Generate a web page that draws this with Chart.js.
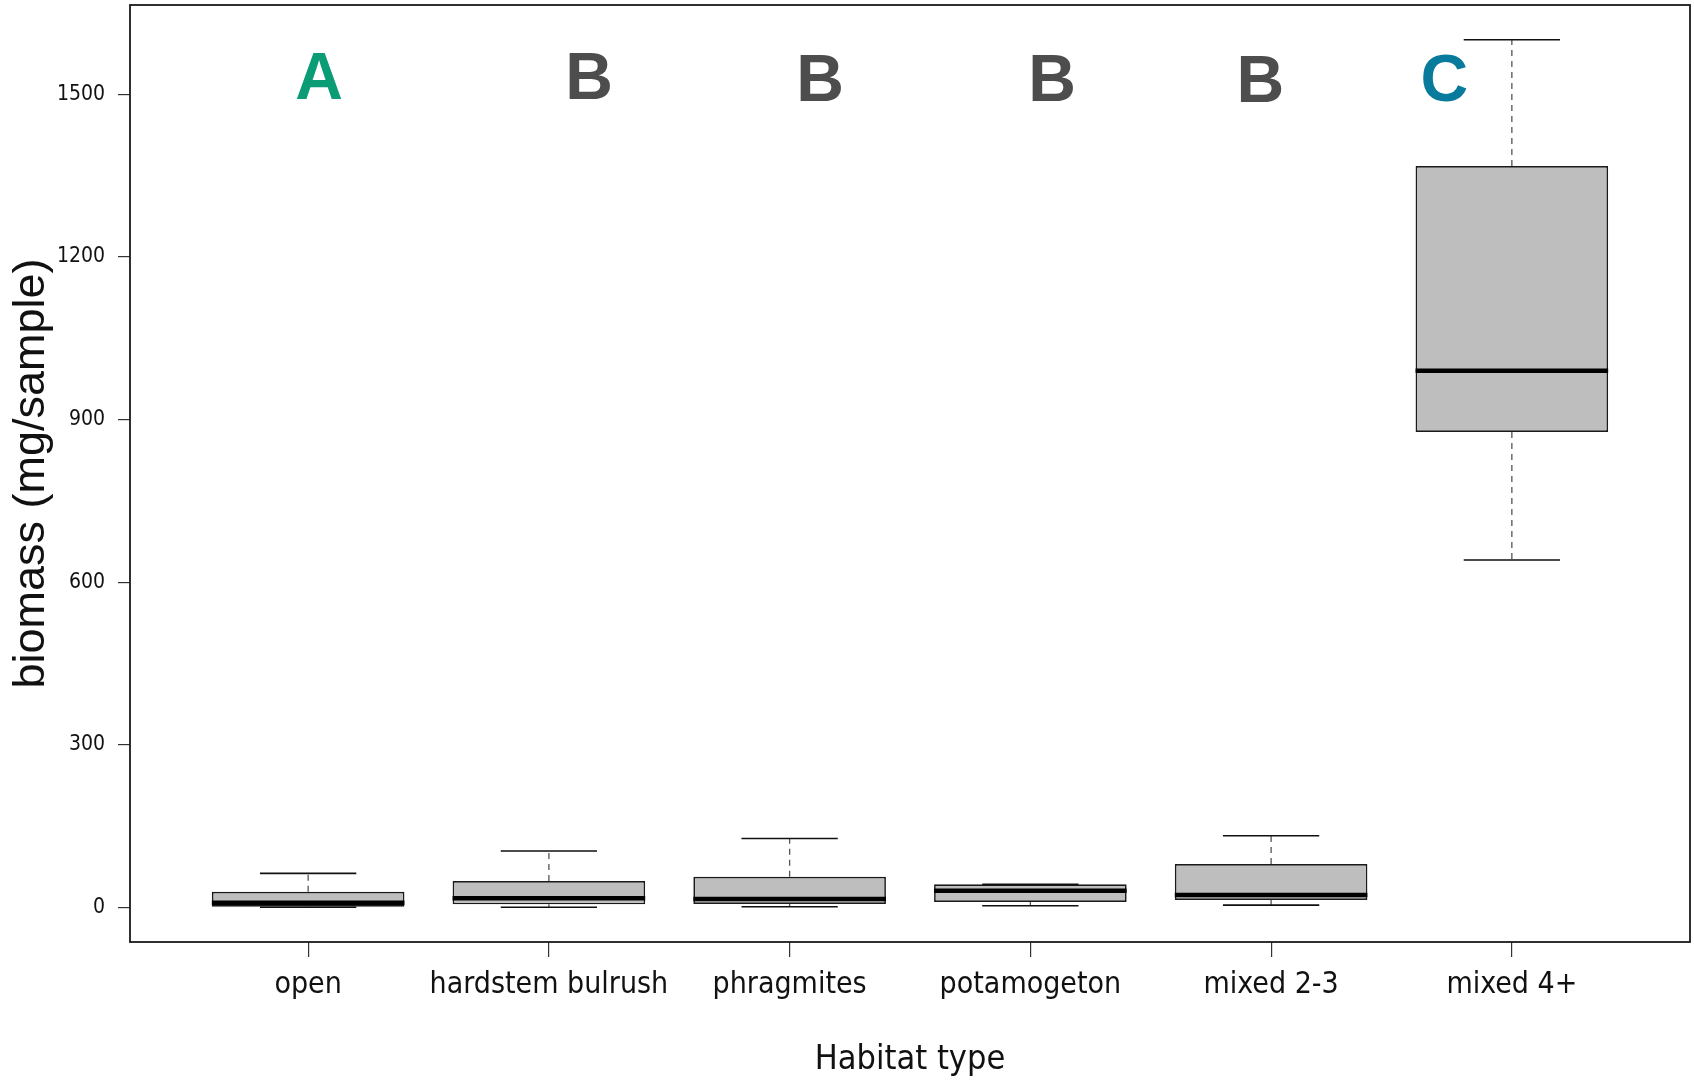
<!DOCTYPE html>
<html lang="en">
<head>
    <meta charset="UTF-8">
    <title>Biomass by habitat type</title>
    <script src="https://cdn.jsdelivr.net/npm/chart.js@4.4.1/dist/chart.umd.min.js"></script>
    <style>
        body {
            margin: 0;
            background: white;
        }
        .chart-container {
            width: 1694px;
            height: 1081px;
        }
    </style>
</head>
<body>
    <div class="chart-container">
        <canvas id="boxChart"></canvas>
    </div>

    <script>
        // habitat categories and box statistics (mg/sample)
        const categories = ['open', 'hardstem bulrush', 'phragmites', 'potamogeton', 'mixed 2-3', 'mixed 4+'];
        const whiskerLow = [0, 0, 1, 3, 4, 641];
        const q1 = [1, 5.5, 6, 10, 13.5, 877];
        const median = [8.5, 16.6, 15.3, 30.6, 22.7, 990];
        const q3 = [28.8, 48.5, 56.4, 42.4, 80, 1368];
        const whiskerHigh = [62.7, 104, 127, 42.4, 132, 1601];

        const yTicks = [0, 300, 600, 900, 1200, 1500];

        // significance letters above the boxes
        const letters = ['A', 'B', 'B', 'B', 'B', 'C'];
        const letterX = [1.045, 2.167, 3.127, 4.09, 4.955, 5.72];
        const letterY = [1491, 1491, 1488, 1488, 1486, 1487];
        const letterColors = ['#0a9c74', '#4d4d4d', '#4d4d4d', '#4d4d4d', '#4d4d4d', '#087a9b'];

        const narrow = "'Liberation Sans Narrow', 'DejaVu Sans Condensed', sans-serif";

        const boxWhiskers = {
            id: 'boxWhiskers',
            afterDatasetsDraw(chart) {
                const ctx = chart.ctx;
                const x = chart.scales.x;
                const y = chart.scales.y;
                ctx.save();
                categories.forEach((c, i) => {
                    const cx = x.getPixelForValue(i + 1);
                    const capHalf = x.getPixelForValue(i + 1.2) - cx;
                    const boxHalf = x.getPixelForValue(i + 1.4) - cx;

                    // dashed whiskers
                    ctx.strokeStyle = '#555';
                    ctx.lineWidth = 1.3;
                    ctx.setLineDash([6, 5]);
                    ctx.beginPath();
                    ctx.moveTo(cx, y.getPixelForValue(q3[i]));
                    ctx.lineTo(cx, y.getPixelForValue(whiskerHigh[i]));
                    ctx.moveTo(cx, y.getPixelForValue(q1[i]));
                    ctx.lineTo(cx, y.getPixelForValue(whiskerLow[i]));
                    ctx.stroke();

                    // caps
                    ctx.setLineDash([]);
                    ctx.strokeStyle = '#111';
                    ctx.lineWidth = 1.6;
                    ctx.beginPath();
                    [whiskerLow[i], whiskerHigh[i]].forEach(v => {
                        const py = y.getPixelForValue(v);
                        ctx.moveTo(cx - capHalf, py);
                        ctx.lineTo(cx + capHalf, py);
                    });
                    ctx.stroke();

                    // median
                    ctx.strokeStyle = '#000';
                    ctx.lineWidth = 4.5;
                    ctx.beginPath();
                    const my = y.getPixelForValue(median[i]);
                    ctx.moveTo(cx - boxHalf, my);
                    ctx.lineTo(cx + boxHalf, my);
                    ctx.stroke();
                });

                // letters
                ctx.font = "bold 66px 'Liberation Sans', Arial, sans-serif";
                ctx.textAlign = 'center';
                ctx.textBaseline = 'alphabetic';
                letters.forEach((l, i) => {
                    ctx.fillStyle = letterColors[i];
                    ctx.fillText(l, x.getPixelForValue(letterX[i]), y.getPixelForValue(letterY[i]));
                });

                // frame
                const a = chart.chartArea;
                ctx.strokeStyle = '#1a1a1a';
                ctx.lineWidth = 1.8;
                ctx.strokeRect(a.left, a.top, a.right - a.left, a.bottom - a.top);
                ctx.restore();
            }
        };

        const ctx = document.getElementById('boxChart').getContext('2d');
        new Chart(ctx, {
            type: 'bar',
            data: {
                datasets: [{
                    data: categories.map((c, i) => ({ x: i + 1, y: [q1[i], q3[i]] })),
                    backgroundColor: '#bebebe',
                    borderColor: '#1a1a1a',
                    borderWidth: 1.7,
                    borderSkipped: false,
                    categoryPercentage: 1,
                    barPercentage: 0.8
                }]
            },
            options: {
                responsive: true,
                maintainAspectRatio: false,
                animation: false,
                layout: {
                    padding: { top: 5, right: 4, left: 0, bottom: 0 }
                },
                plugins: {
                    legend: { display: false },
                    tooltip: { enabled: false }
                },
                scales: {
                    x: {
                        type: 'linear',
                        min: 0.26,
                        max: 6.74,
                        offset: false,
                        afterBuildTicks: scale => {
                            scale.ticks = categories.map((c, i) => ({ value: i + 1 }));
                        },
                        afterFit: scale => {
                            scale.height = 139;
                            scale.paddingLeft = 0;
                            scale.paddingRight = 0;
                        },
                        grid: {
                            offset: false,
                            drawOnChartArea: false,
                            drawTicks: true,
                            tickLength: 15,
                            color: '#333',
                            lineWidth: 1.2
                        },
                        border: { display: false },
                        ticks: {
                            callback: value => categories[value - 1],
                            color: '#111',
                            padding: 10,
                            maxRotation: 0,
                            autoSkip: false,
                            font: { family: narrow, size: 30 }
                        },
                        title: {
                            display: true,
                            text: 'Habitat type',
                            color: '#111',
                            padding: { bottom: 0 },
                            font: { family: narrow, size: 34 }
                        }
                    },
                    y: {
                        min: -64,
                        max: 1665,
                        afterBuildTicks: scale => {
                            scale.ticks = yTicks.map(v => ({ value: v }));
                        },
                        afterFit: scale => {
                            scale.width = 130;
                            scale.paddingTop = 0;
                            scale.paddingBottom = 0;
                        },
                        grid: {
                            drawOnChartArea: false,
                            drawTicks: true,
                            tickLength: 12,
                            color: '#333',
                            lineWidth: 1.2
                        },
                        border: { display: false },
                        ticks: {
                            callback: value => String(value),
                            color: '#111',
                            padding: 13,
                            font: { family: narrow, size: 21 }
                        },
                        title: {
                            display: true,
                            text: 'biomass (mg/sample)',
                            color: '#111',
                            padding: { top: 5 },
                            font: { family: "'Liberation Sans', Arial, sans-serif", size: 45 }
                        }
                    }
                }
            },
            plugins: [boxWhiskers]
        });
    </script>
</body>
</html>
